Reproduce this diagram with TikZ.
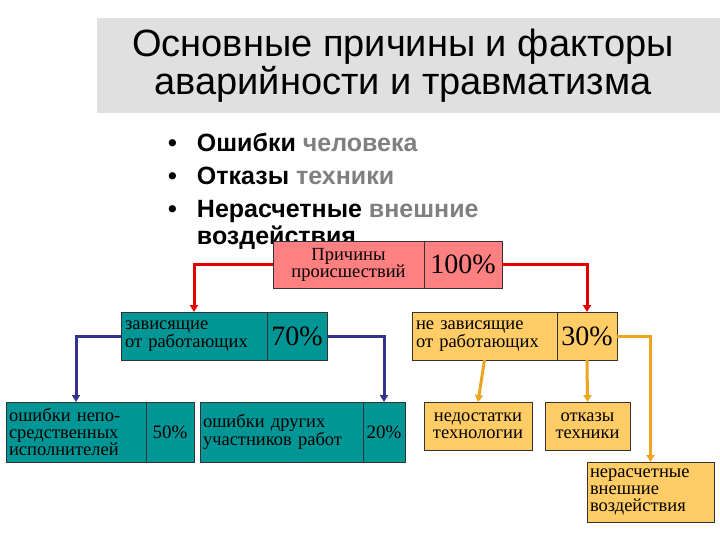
\documentclass[tikz,border=0pt]{standalone}
\usepackage{fontspec}
\setmainfont{Liberation Serif}
\newfontfamily\arial{Liberation Sans}
\usetikzlibrary{arrows.meta}
\begin{document}
\begin{tikzpicture}[x=1pt,y=-1pt,
  bx/.style={draw=black!80,line width=0.8pt,inner sep=0pt,outer sep=0pt,anchor=north west,font=\fontsize{18.5}{17}\selectfont,align=left},
  pc/.style={bx,align=center,font=\fontsize{28}{28}\selectfont},
  pcs/.style={bx,align=center,font=\fontsize{19}{19}\selectfont},
  arr/.style={line width=3pt,-{Triangle[width=8pt,length=7pt]}}]
\useasboundingbox (0,0) rectangle (720,540);
\fill[white] (0,0) rectangle (720,540);
\node[fill=black!12,minimum width=623pt,minimum height=95pt,anchor=north west,inner sep=0pt] (title) at (97,18) {};
\node[font=\arial\fontsize{38}{38}\selectfont,align=center] (tt) at (403,66) {Основные причины и факторы\\аварийности и травматизма};
\node[font=\arial\bfseries\fontsize{25}{33}\selectfont,align=left,anchor=north west,inner sep=0pt] (bul) at (168,133)
 {\textbullet\hspace{20pt}Ошибки \textcolor{black!50}{человека}\\
  \textbullet\hspace{20pt}Отказы \textcolor{black!50}{техники}\\
  \textbullet\hspace{20pt}Нерасчетные \textcolor{black!50}{внешние}\\[-6pt]
  \phantom{\textbullet}\hspace{20pt}воздействия};
% top
\node[bx,fill=red!50!white,minimum width=151pt,minimum height=47pt,align=center] (tL) at (273,241) {Причины\\происшествий};
\node[pc,fill=red!50!white,minimum width=78pt,minimum height=47pt] (tP) at (424,241) {100\%};
% mid
\definecolor{tl}{RGB}{0,150,150}
\definecolor{or}{RGB}{255,204,102}
\node[bx,fill=tl,minimum width=146pt,minimum height=48pt,text width=146pt] (lL) at (121,312) {\hspace*{4pt}зависящие\\\hspace*{4pt}от работающих};
\node[pc,fill=tl,minimum width=60pt,minimum height=48pt] (lP) at (267,312) {70\%};
\node[bx,fill=or,minimum width=145pt,minimum height=48pt,text width=145pt] (rL) at (412,312) {\hspace*{4pt}не зависящие\\\hspace*{4pt}от работающих};
\node[pc,fill=or,minimum width=60pt,minimum height=48pt] (rP) at (557,312) {30\%};
% bottom
\node[bx,fill=tl,minimum width=140pt,minimum height=60pt,text width=140pt] (b1L) at (6,402) {\hspace*{3pt}ошибки непо-\\\hspace*{3pt}средственных\\\hspace*{3pt}исполнителей};
\node[pcs,fill=tl,minimum width=48pt,minimum height=60pt] (b1P) at (146,402) {50\%};
\node[bx,fill=tl,minimum width=163pt,minimum height=60pt,text width=163pt] (b2L) at (200,402) {\hspace*{3pt}ошибки других\\\hspace*{3pt}участников работ};
\node[pcs,fill=tl,minimum width=42pt,minimum height=60pt] (b2P) at (363,402) {20\%};
\node[bx,fill=or,minimum width=108pt,minimum height=48pt,align=center] (b3) at (424,402) {недостатки\\технологии};
\node[bx,fill=or,minimum width=85pt,minimum height=48pt,align=center] (b4) at (545,402) {отказы\\техники};
\node[bx,fill=or,minimum width=127pt,minimum height=60pt,text width=127pt] (b5) at (587,462) {\hspace*{3pt}нерасчетные\\\hspace*{3pt}внешние\\\hspace*{3pt}воздействия};
% arrows
\draw[arr,red!90!black] (tL.west) -| (lL.north);
\draw[arr,red!90!black] (tP.east) -| (rP.north);
\definecolor{nv}{RGB}{51,51,140}
\draw[arr,nv] (lL.west) -| (b1L.north);
\draw[arr,nv] (lP.east) -| (b2P.north);
\definecolor{oa}{RGB}{235,165,30}
\draw[arr,oa] (rL.south) -- (b3.north);
\draw[arr,oa] (rP.south) -- (b4.north);
\draw[arr,oa] (rP.east) -| (b5.north);
\end{tikzpicture}
\end{document}
